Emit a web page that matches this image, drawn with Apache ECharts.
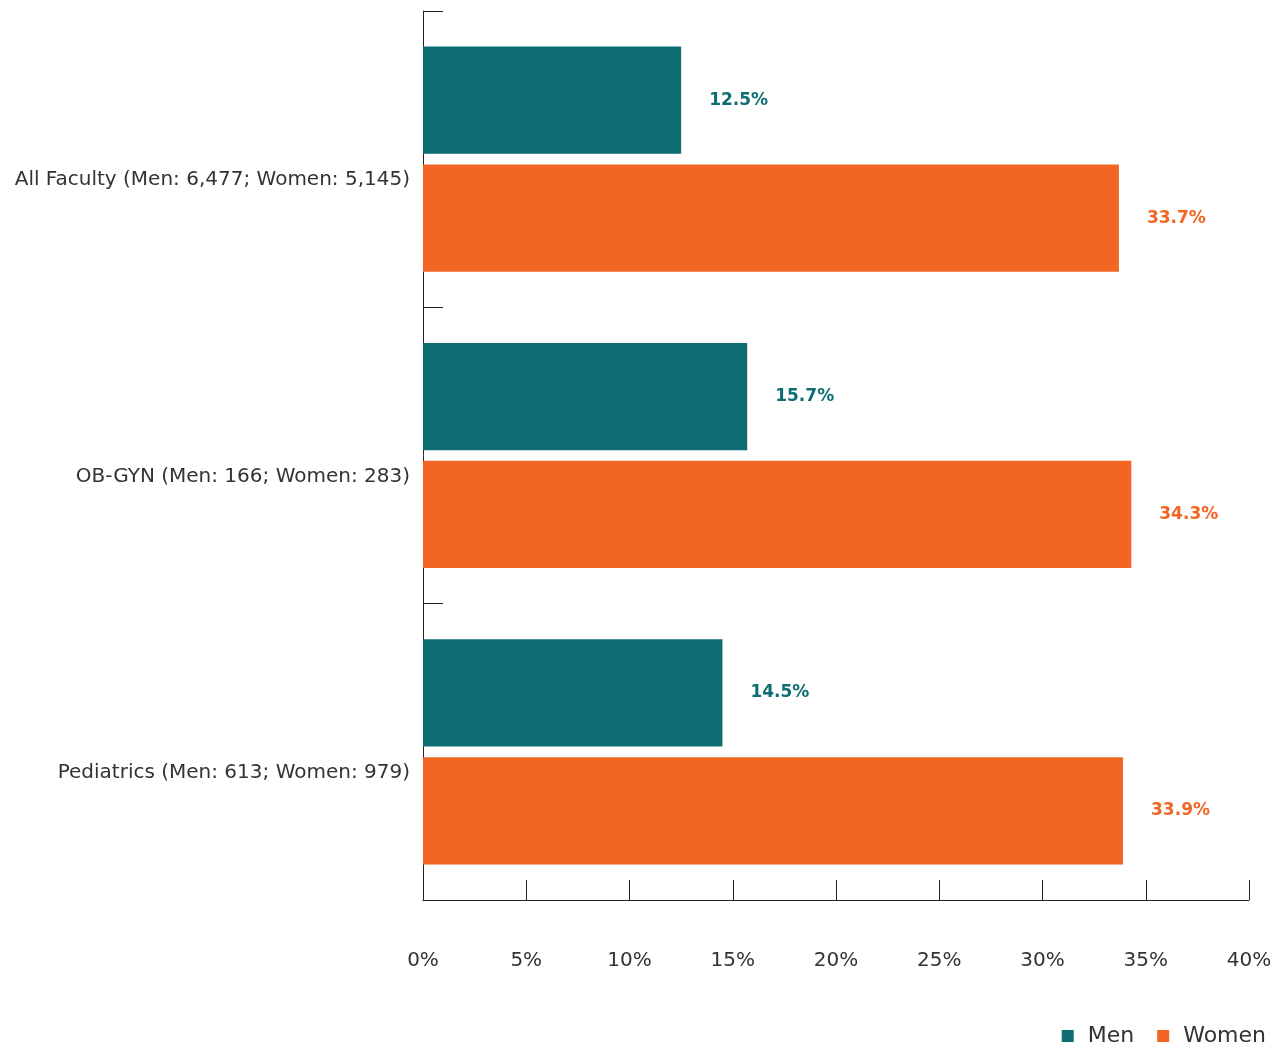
<!DOCTYPE html>
<html>
<head>
<meta charset="utf-8">
<script src="https://cdn.jsdelivr.net/npm/echarts@6/dist/echarts.min.js"></script>
<style>
  html, body { margin: 0; padding: 0; background: #fff; }
  #chart { width: 1287px; height: 1044px; }
</style>
</head>
<body>
<div id="chart"></div>
<script>
const categories = [
  'All Faculty (Men: 6,477; Women: 5,145)',
  'OB-GYN (Men: 166; Women: 283)',
  'Pediatrics (Men: 613; Women: 979)'
];
const menValues = [12.5, 15.7, 14.5];
const womenValues = [33.7, 34.3, 33.9];

const TEAL = '#0e6d73';
const ORANGE = '#f26522';
const FONT = '"DejaVu Sans", sans-serif';

const chart = echarts.init(document.getElementById('chart'));

const labelFor = (color) => ({
    show: true,
    position: 'right',
    distance: 28,
    color: color,
    fontWeight: 'bold',
    fontSize: 17,
    fontFamily: FONT,
    formatter: (p) => p.value.toFixed(1) + '%'
});

const option = {
    animation: false,
    textStyle: { fontFamily: FONT },
    grid: { left: 423, right: 38, top: 11, bottom: 144, containLabel: false },
    legend: {
        right: 16,
        bottom: -3,
        itemWidth: 12,
        itemHeight: 12,
        itemGap: 23,
        icon: 'rect',
        padding: [5, 5, 0, 5],
        formatter: '{t|{name}}',
        textStyle: {
            fontSize: 22,
            color: '#333',
            fontFamily: FONT,
            rich: { t: { fontSize: 22, color: '#333', fontFamily: FONT, padding: [0, 0, 0, 9] } }
        },
        data: ['Men', 'Women']
    },
    xAxis: {
        type: 'value',
        min: 0,
        max: 40,
        interval: 5,
        axisLine: { show: true, lineStyle: { color: '#222', width: 1 } },
        axisTick: { show: true, inside: true, length: 20, lineStyle: { color: '#222' } },
        splitLine: { show: false },
        axisLabel: {
            margin: 51,
            fontSize: 20,
            color: '#333',
            fontFamily: FONT,
            formatter: '{value}%'
        }
    },
    yAxis: {
        type: 'category',
        inverse: true,
        data: categories,
        axisLine: { show: true, lineStyle: { color: '#222', width: 1 } },
        axisTick: { show: true, inside: true, length: 20, alignWithLabel: false, lineStyle: { color: '#222' } },
        axisLabel: {
            margin: 13,
            fontSize: 20,
            color: '#333',
            fontFamily: FONT,
            verticalAlign: 'top',
            lineHeight: 42
        }
    },
    series: [
        {
            name: 'Men',
            type: 'bar',
            data: menValues,
            itemStyle: { color: TEAL },
            barGap: '10%',
            barCategoryGap: '24%',
            label: labelFor(TEAL)
        },
        {
            name: 'Women',
            type: 'bar',
            data: womenValues,
            itemStyle: { color: ORANGE },
            label: labelFor(ORANGE)
        }
    ]
};

chart.setOption(option);
</script>
</body>
</html>
